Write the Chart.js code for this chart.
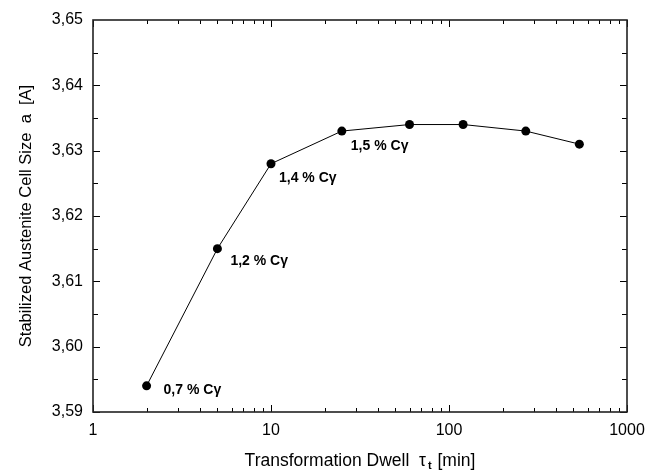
<!DOCTYPE html>
<html lang="en">
<head>
    <meta charset="UTF-8">
    <title>Stabilized Austenite Cell Size</title>
    <script src="https://cdn.jsdelivr.net/npm/chart.js"></script>
    <style>
        html, body { margin: 0; padding: 0; background: #fff; }
        #wrap { width: 656px; height: 470px; }
    </style>
</head>
<body>
<div id="wrap"><canvas id="cellChart" width="656" height="470"></canvas></div>
<script>
    // data
    const dwellMin = [2, 5, 10, 25, 60, 120, 270, 540];
    const cellSize = [3.594, 3.615, 3.628, 3.633, 3.634, 3.634, 3.633, 3.631];
    const carbonIdx = [0, 1, 2, 3];
    const carbonLabels = ['0,7 % C\u03b3', '1,2 % C\u03b3', '1,4 % C\u03b3', '1,5 % C\u03b3'];
    const xTicks = [1, 10, 100, 1000];
    const yTicks = [3.59, 3.60, 3.61, 3.62, 3.63, 3.64, 3.65];

    const FONT = '"Liberation Sans", Arial, sans-serif';
    // offsets of the carbon labels from their points (px)
    const labelOffsets = [[17, 4], [13, 12], [8, 14], [9, 15]];

    const framePlugin = {
        id: 'frame',
        afterDraw(chart) {
            const ctx = chart.ctx;
            const a = chart.chartArea;
            const xs = chart.scales.x, ys = chart.scales.y;
            ctx.save();
            ctx.strokeStyle = '#000';
            ctx.lineWidth = 1;
            // ticks, inward on all four sides
            ctx.beginPath();
            for (let d = 1; d < 1000; d *= 10) {
                for (let k = 1; k <= 10; k++) {
                    const v = d * k;
                    const px = Math.round(xs.getPixelForValue(v)) + 0.5;
                    const len = (k === 1 || k === 10) ? 7 : 4;
                    ctx.moveTo(px, a.bottom); ctx.lineTo(px, a.bottom - len);
                    ctx.moveTo(px, a.top); ctx.lineTo(px, a.top + len);
                }
            }
            for (let i = 0; i < yTicks.length - 1; i++) {
                const steps = [yTicks[i], (yTicks[i] + yTicks[i + 1]) / 2];
                steps.forEach((v, j) => {
                    const py = Math.round(ys.getPixelForValue(v)) + 0.5;
                    const len = j === 0 ? 7 : 5;
                    ctx.moveTo(a.left, py); ctx.lineTo(a.left + len, py);
                    ctx.moveTo(a.right, py); ctx.lineTo(a.right - len, py);
                });
            }
            ctx.stroke();
            // frame
            ctx.lineWidth = 1.6;
            ctx.strokeStyle = '#222';
            ctx.strokeRect(a.left, a.top, a.right - a.left, a.bottom - a.top);

            // carbon content labels
            ctx.fillStyle = '#000';
            ctx.font = 'bold 14px ' + FONT;
            ctx.textBaseline = 'middle';
            ctx.textAlign = 'left';
            carbonIdx.forEach((idx, i) => {
                const px = xs.getPixelForValue(dwellMin[idx]);
                const py = ys.getPixelForValue(cellSize[idx]);
                ctx.fillText(carbonLabels[i], px + labelOffsets[i][0], py + labelOffsets[i][1]);
            });

            // x axis title with subscript
            ctx.textBaseline = 'alphabetic';
            const main = 'Transformation Dwell  \u03c4';
            const tail = ' [min]';
            ctx.font = '17.5px ' + FONT;
            const w1 = ctx.measureText(main).width;
            const w3 = ctx.measureText(tail).width;
            ctx.font = 'bold 11px ' + FONT;
            const w2 = ctx.measureText('t').width + 3;
            const total = w1 + w2 + w3;
            const cx = (a.left + a.right) / 2;
            const x0 = cx - total / 2;
            const base = 466;
            ctx.font = '17.5px ' + FONT;
            ctx.fillText(main, x0, base);
            ctx.font = 'bold 11px ' + FONT;
            ctx.fillText('t', x0 + w1 + 2, base + 3);
            ctx.font = '17.5px ' + FONT;
            ctx.fillText(tail, x0 + w1 + w2, base);
            ctx.restore();
        }
    };

    const ctx = document.getElementById('cellChart').getContext('2d');
    new Chart(ctx, {
        type: 'line',
        data: {
            datasets: [{
                data: dwellMin.map((x, i) => ({ x: x, y: cellSize[i] })),
                borderColor: '#000',
                borderWidth: 1,
                backgroundColor: '#000',
                pointRadius: 4.5,
                pointBackgroundColor: '#000',
                pointBorderWidth: 0,
                tension: 0
            }]
        },
        options: {
            responsive: false,
            animation: false,
            layout: { padding: { left: 0, right: 29, top: 20, bottom: 0 } },
            plugins: {
                legend: { display: false },
                tooltip: { enabled: false }
            },
            scales: {
                x: {
                    type: 'logarithmic',
                    min: 1,
                    max: 1000,
                    afterBuildTicks: s => { s.ticks = xTicks.map(v => ({ value: v })); },
                    afterFit: s => { s.height = 58; },
                    grid: { display: false, drawTicks: false },
                    border: { display: false },
                    ticks: {
                        color: '#000',
                        padding: 9,
                        maxRotation: 0,
                        font: { family: FONT, size: 16 },
                        callback: v => String(v)
                    }
                },
                y: {
                    min: 3.59,
                    max: 3.65,
                    afterBuildTicks: s => { s.ticks = yTicks.map(v => ({ value: v })); },
                    afterFit: s => { s.width = 93; },
                    grid: { display: false, drawTicks: false },
                    border: { display: false },
                    ticks: {
                        color: '#000',
                        padding: 10,
                        font: { family: FONT, size: 16 },
                        callback: v => v.toFixed(2).replace('.', ',')
                    },
                    title: {
                        display: true,
                        text: 'Stabilized Austenite Cell Size  a  [A]',
                        color: '#000',
                        font: { family: FONT, size: 16.5 },
                        padding: { top: 17, bottom: 0 }
                    }
                }
            }
        },
        plugins: [framePlugin]
    });
</script>
</body>
</html>
